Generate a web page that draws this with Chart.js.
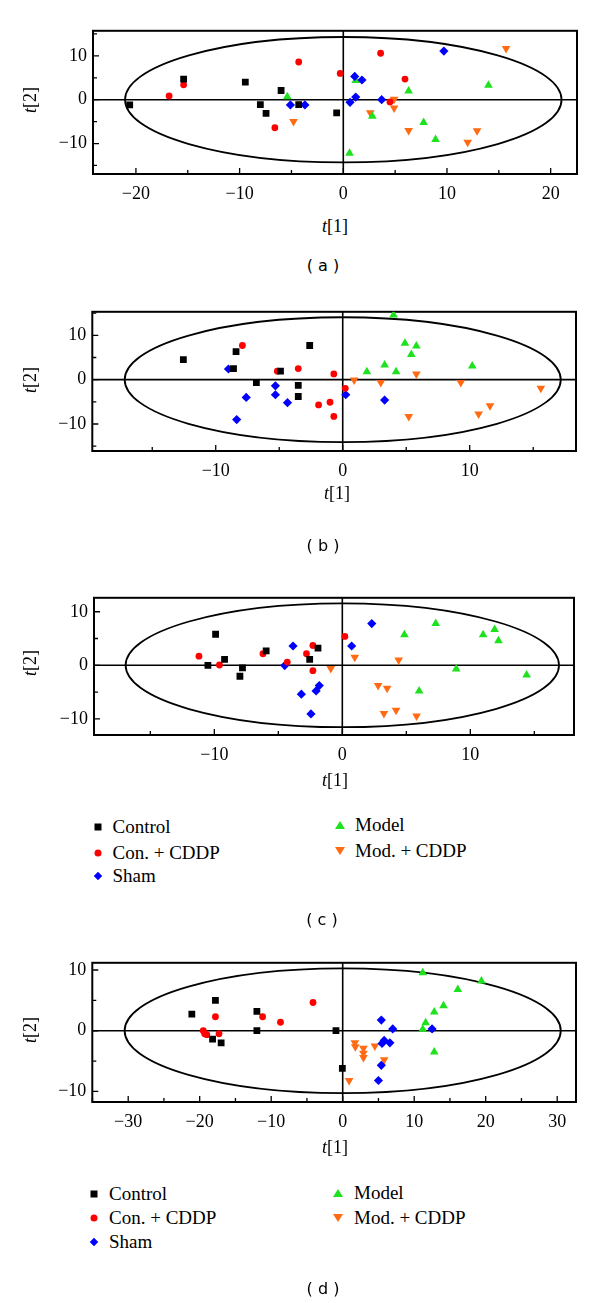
<!DOCTYPE html>
<html>
<head>
<meta charset="utf-8">
<script src="https://cdn.jsdelivr.net/npm/chart.js@4.4.1/dist/chart.umd.min.js"></script>
<style>
  html, body { margin: 0; padding: 0; background: #fff; }
  #page { position: relative; width: 600px; height: 1303px; overflow: hidden; background: #fff; }
  canvas { position: absolute; left: 0; }
  .ttl { position: absolute; font-family: "Liberation Serif", "Times New Roman", serif; font-size: 18px; color: #000;
         transform: translate(-50%, -50%); white-space: nowrap; }
  .ttl.rot { transform: translate(-50%, -50%) rotate(-90deg); }
  .cap { position: absolute; font-family: "DejaVu Sans", sans-serif; font-size: 16px; color: #000;
         transform: translate(-50%, -50%); white-space: pre; }
  .leg { position: absolute; font-family: "Liberation Serif", "Times New Roman", serif; font-size: 19px; color: #000;
         transform: translateY(-50%); white-space: nowrap; }
  .sym { position: absolute; transform: translate(-50%, -50%); }
  .sq { width: 7px; height: 7px; background: #000; }
  .ci { width: 7px; height: 7px; border-radius: 50%; background: #ff0000; }
  .di { width: 6px; height: 6px; background: #0000ff; transform: translate(-50%, -50%) rotate(45deg); }
  .tu { width: 0; height: 0; border-left: 5px solid transparent; border-right: 5px solid transparent; border-bottom: 8px solid #1de21d; }
  .td { width: 0; height: 0; border-left: 5px solid transparent; border-right: 5px solid transparent; border-top: 8px solid #ff6a12; }
</style>
</head>
<body>
<div id="page">
  <canvas id="chartA"></canvas>
  <canvas id="chartB"></canvas>
  <canvas id="chartC"></canvas>
  <canvas id="chartD"></canvas>

  <div class="ttl" style="left:335px; top:226px;"><i>t</i>[1]</div>
  <div class="ttl rot" style="left:30px; top:100px;"><i>t</i>[2]</div>
  <div class="cap" style="left:323px; top:265px;">( a )</div>

  <div class="ttl" style="left:337px; top:493px;"><i>t</i>[1]</div>
  <div class="ttl rot" style="left:30px; top:380px;"><i>t</i>[2]</div>
  <div class="cap" style="left:323px; top:545px;">( b )</div>

  <div class="ttl" style="left:335px; top:780px;"><i>t</i>[1]</div>
  <div class="ttl rot" style="left:30px; top:663px;"><i>t</i>[2]</div>
  <div class="cap" style="left:322px; top:919px;">( c )</div>

  <div class="ttl" style="left:335px; top:1147px;"><i>t</i>[1]</div>
  <div class="ttl rot" style="left:30px; top:1030px;"><i>t</i>[2]</div>
  <div class="cap" style="left:323px; top:1288px;">( d )</div>
</div>

<script>
// groups, in legend order
const groupNames = ['Control', 'Con. + CDDP', 'Sham', 'Model', 'Mod. + CDDP'];

// panel (a) scores [t1, t2]
const aControl = [[-20.6, -1.2], [-15.4, 4.7], [-9.45, 4.0], [-6.0, 2.1], [-8.0, -1.1], [-7.45, -3.1], [-4.3, -1.1], [-0.64, -3.0]];
const aConCddp = [[-16.8, 0.85], [-15.4, 3.4], [-4.3, 8.6], [-6.6, -6.4], [-0.3, 6.0], [3.6, 10.6], [5.95, 4.7], [4.5, -0.5]];
const aSham = [[-5.1, -1.2], [-3.7, -1.2], [1.1, 5.3], [1.8, 4.5], [1.2, 0.6], [0.65, -0.6], [3.7, 0.0], [9.7, 11.1]];
const aModel = [[-5.4, 0.7], [1.2, 4.4], [6.3, 2.0], [2.8, -3.8], [7.75, -5.2], [8.9, -9.1], [14.0, 3.3], [0.6, -12.2]];
const aModCddp = [[-4.8, -5.0], [4.9, 0.1], [4.9, -1.9], [2.6, -3.0], [6.3, -7.0], [12.9, -7.1], [12.0, -9.7], [15.7, 11.7]];

// panel (b)
const bControl = [[-12.55, 4.5], [-8.4, 6.3], [-8.6, 2.5], [-6.8, -0.65], [-4.9, 1.9], [-3.5, -1.3], [-3.5, -3.8], [-2.6, 7.7]];
const bConCddp = [[-7.9, 7.7], [-5.15, 1.9], [-3.5, 2.5], [-1.9, -5.7], [-1.0, -5.1], [-0.7, 1.3], [-0.7, -8.3], [0.2, -1.95]];
const bSham = [[-9.0, 2.4], [-7.6, -4.0], [-8.35, -9.0], [-5.3, -1.4], [-5.3, -3.4], [-4.35, -5.2], [0.24, -3.4], [3.3, -4.6]];
const bModel = [[4.0, 14.6], [4.9, 8.2], [5.8, 7.6], [5.4, 5.65], [3.3, 3.3], [1.9, 1.8], [4.2, 1.8], [10.2, 3.1]];
const bModCddp = [[0.9, -0.1], [3.0, -0.65], [5.8, 1.3], [9.3, -0.65], [15.6, -1.95], [5.2, -8.3], [10.7, -7.75], [11.6, -5.9]];

// panel (c)
const cControl = [[-9.9, 5.8], [-10.5, 0.0], [-9.2, 1.1], [-7.8, -0.5], [-8.0, -2.05], [-5.95, 2.7], [-1.9, 3.2], [-2.55, 1.1]];
const cConCddp = [[-11.2, 1.7], [-9.6, 0.05], [-6.2, 2.15], [-4.3, 0.6], [-2.8, 2.15], [-2.3, 3.7], [-2.3, -1.0], [0.2, 5.4]];
const cSham = [[-4.5, -0.05], [-3.85, 3.6], [-3.2, -5.4], [-2.45, -9.1], [-2.05, -4.8], [-1.8, -3.8], [2.3, 7.8], [0.73, 3.6]];
const cModel = [[7.3, 7.8], [4.85, 5.7], [11.0, 5.7], [11.9, 6.7], [12.2, 4.6], [8.9, -0.7], [14.4, -1.8], [6.0, -4.8]];
const cModCddp = [[-0.9, -0.6], [0.97, 1.5], [4.4, 1.0], [2.8, -3.8], [3.5, -4.3], [3.25, -9.0], [4.2, -8.4], [5.8, -9.5]];

// panel (d)
const dControl = [[-21.1, 2.75], [-17.8, 5.0], [-18.2, -1.4], [-17.0, -2.0], [-12.0, 3.2], [-12.0, 0.0], [-0.94, 0.0], [-0.05, -6.2]];
const dConCddp = [[-19.5, 0.0], [-19.3, -0.5], [-19.0, -0.65], [-17.8, 2.3], [-17.3, -0.5], [-11.2, 2.3], [-8.7, 1.4], [-4.15, 4.65]];
const dSham = [[5.4, 1.75], [7.0, 0.3], [12.5, 0.3], [5.8, -1.6], [6.6, -2.0], [5.5, -2.1], [5.4, -5.7], [5.0, -8.2]];
const dModel = [[11.2, 9.55], [19.4, 8.2], [16.1, 6.8], [14.1, 4.1], [12.8, 3.1], [11.6, 1.3], [11.2, 0.25], [12.8, -3.5]];
const dModCddp = [[1.7, -2.0], [1.76, -2.65], [2.9, -2.9], [2.9, -3.7], [2.9, -4.4], [4.5, -2.5], [5.8, -4.8], [0.9, -8.2]];

// Hotelling ellipse semi-axes [t1, t2]
const aEllipse = [21.05, 14.3];
const bEllipse = [17.17, 14.07];
const cEllipse = [16.93, 11.57];
const dEllipse = [30.5, 10.27];

// marker look per group
const markerStyles = [
  { color: '#000000', pointStyle: 'rect', radius: 4.8, rotation: 0 },
  { color: '#ff0000', pointStyle: 'circle', radius: 3.4, rotation: 0 },
  { color: '#0000ff', pointStyle: 'rectRot', radius: 4.6, rotation: 0 },
  { color: '#1de21d', pointStyle: 'triangle', radius: 5.0, rotation: 0 },
  { color: '#ff6a12', pointStyle: 'triangle', radius: 5.0, rotation: 180 }
];

const serifFamily = '"Liberation Serif", "Times New Roman", serif';

function fmt(v) {
  if (v % 10 !== 0) return '';
  return v < 0 ? '\u2212' + Math.abs(v) : String(v);
}

// ellipse, zero lines, frame and inward ticks
const framePlugin = {
  id: 'frame',
  beforeDatasetsDraw(chart, args, opts) {
    const { ctx, chartArea: a, scales: { x, y } } = chart;
    ctx.save();
    ctx.strokeStyle = '#000';

    // zero lines
    ctx.lineWidth = 1.6;
    const x0 = x.getPixelForValue(0), y0 = y.getPixelForValue(0);
    ctx.beginPath();
    ctx.moveTo(x0, a.top); ctx.lineTo(x0, a.bottom);
    ctx.moveTo(a.left, y0); ctx.lineTo(a.right, y0);
    ctx.stroke();

    // ellipse
    const rx = Math.abs(x.getPixelForValue(opts.ellipse[0]) - x0);
    const ry = Math.abs(y.getPixelForValue(opts.ellipse[1]) - y0);
    ctx.lineWidth = 1.8;
    ctx.beginPath();
    ctx.ellipse(x0, y0, rx, ry, 0, 0, Math.PI * 2);
    ctx.stroke();

    // inward ticks
    ctx.lineWidth = 1.3;
    ctx.beginPath();
    x.ticks.forEach(t => {
      const px = x.getPixelForValue(t.value);
      const len = t.value % 10 === 0 ? 6 : 4;
      ctx.moveTo(px, a.bottom); ctx.lineTo(px, a.bottom - len);
    });
    y.ticks.forEach(t => {
      const py = y.getPixelForValue(t.value);
      const len = t.value % 10 === 0 ? 6 : 4;
      ctx.moveTo(a.left, py); ctx.lineTo(a.left + len, py);
    });
    ctx.stroke();

    // frame
    ctx.lineWidth = 2;
    ctx.strokeRect(a.left, a.top, a.right - a.left, a.bottom - a.top);
    ctx.restore();
  }
};

function makePanel(id, frame, xRange, yRange, ellipse, groups) {
  const padTop = 12, axisH = 40;
  const canvas = document.getElementById(id);
  const h = Math.round(frame.bottom - frame.top) + padTop + axisH;
  canvas.width = 600;
  canvas.height = h;
  canvas.style.top = (frame.top - padTop) + 'px';

  const datasets = groups.map((pts, i) => {
    const m = markerStyles[i];
    return {
      label: groupNames[i],
      data: pts.map(p => ({ x: p[0], y: p[1] })),
      pointStyle: m.pointStyle,
      pointRadius: m.radius,
      pointHoverRadius: m.radius,
      pointRotation: m.rotation,
      backgroundColor: m.color,
      borderColor: m.color,
      borderWidth: 0
    };
  });

  const tickFont = { family: serifFamily, size: 18 };

  return new Chart(canvas.getContext('2d'), {
    type: 'scatter',
    data: { datasets },
    options: {
      responsive: false,
      animation: false,
      devicePixelRatio: 1,
      layout: { padding: { top: padTop, left: 0, right: 600 - frame.right, bottom: 0 } },
      plugins: {
        legend: { display: false },
        tooltip: { enabled: false },
        frame: { ellipse }
      },
      scales: {
        x: {
          type: 'linear',
          min: xRange[0], max: xRange[1],
          grid: { display: false, drawTicks: false },
          border: { display: false },
          ticks: { stepSize: 5, includeBounds: false, autoSkip: false, maxRotation: 0,
                   padding: 9, color: '#000', font: tickFont, callback: fmt },
          afterFit(scale) { scale.height = axisH; }
        },
        y: {
          type: 'linear',
          min: yRange[0], max: yRange[1],
          grid: { display: false, drawTicks: false },
          border: { display: false },
          ticks: { stepSize: 5, includeBounds: false, autoSkip: false,
                   padding: 6, color: '#000', font: tickFont, callback: fmt },
          afterFit(scale) { scale.width = frame.left; }
        }
      }
    },
    plugins: [framePlugin]
  });
}

makePanel('chartA', { left: 93, right: 577, top: 26, bottom: 174 },
  [-24.14, 22.54], [-16.95, 15.72], aEllipse,
  [aControl, aConCddp, aSham, aModel, aModCddp]);

makePanel('chartB', { left: 92.3, right: 576, top: 307.3, bottom: 451.7 },
  [-19.72, 18.37], [-16.09, 15.3], bEllipse,
  [bControl, bConCddp, bSham, bModel, bModCddp]);

makePanel('chartC', { left: 94, right: 574, top: 593.3, bottom: 735.7 },
  [-19.4, 18.1], [-13.03, 12.61], cEllipse,
  [cControl, cConCddp, cSham, cModel, cModCddp]);

makePanel('chartD', { left: 92.3, right: 576, top: 958.3, bottom: 1102.3 },
  [-35.02, 32.63], [-11.74, 11.19], dEllipse,
  [dControl, dConCddp, dSham, dModel, dModCddp]);

// legends below (c) and (d)
const symClasses = ['sq', 'ci', 'di', 'tu', 'td'];
function buildLegend(rows) {
  const page = document.getElementById('page');
  rows.forEach((r, i) => {
    const s = document.createElement('div');
    s.className = 'sym ' + symClasses[i];
    s.style.left = r.sx + 'px';
    s.style.top = r.y + 'px';
    page.appendChild(s);
    const t = document.createElement('div');
    t.className = 'leg';
    t.style.left = r.tx + 'px';
    t.style.top = r.y + 'px';
    t.textContent = groupNames[i];
    page.appendChild(t);
  });
}

buildLegend([
  { sx: 98, tx: 112.5, y: 827 },
  { sx: 98, tx: 112.5, y: 853 },
  { sx: 98, tx: 112.5, y: 876 },
  { sx: 340, tx: 355, y: 825 },
  { sx: 340, tx: 355, y: 851 }
]);

buildLegend([
  { sx: 94, tx: 109, y: 1194 },
  { sx: 94, tx: 109, y: 1218 },
  { sx: 94, tx: 109, y: 1242 },
  { sx: 338, tx: 354, y: 1193 },
  { sx: 338, tx: 354, y: 1218 }
]);
</script>
</body>
</html>
